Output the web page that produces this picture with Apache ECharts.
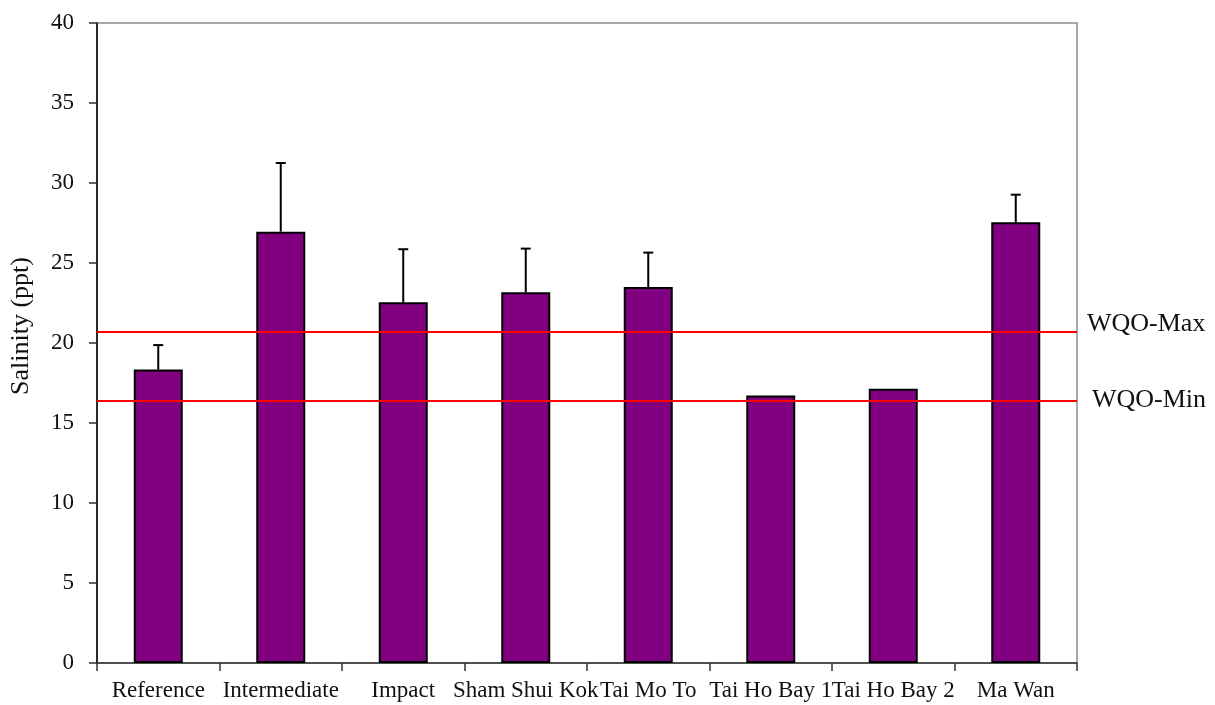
<!DOCTYPE html>
<html>
<head>
<meta charset="utf-8">
<script src="https://cdn.jsdelivr.net/npm/echarts@6/dist/echarts.min.js"></script>
<style>
html,body{margin:0;padding:0;background:#fff;}
#chart{width:1215px;height:705px;}
</style>
</head>
<body>
<div id="chart"></div>
<script>
var categories = ['Reference','Intermediate','Impact','Sham Shui Kok','Tai Mo To','Tai Ho Bay 1','Tai Ho Bay 2','Ma Wan'];
var salinity = [18.34, 26.96, 22.54, 23.17, 23.5, 16.72, 17.14, 27.54];
var errorUp = [1.53, 4.29, 3.32, 2.73, 2.15, 0, 0, 1.73];
var wqoMax = 20.7;
var wqoMin = 16.42;
var yTicks = [0, 5, 10, 15, 20, 25, 30, 35, 40];

var FONT = 'Liberation Serif';
var chart = echarts.init(document.getElementById('chart'));

var errData = categories.map(function (c, i) { return [i, salinity[i], salinity[i] + errorUp[i]]; });

chart.setOption({
  animation: false,
  backgroundColor: '#fff',
  grid: { left: 96, right: 138, top: 23, bottom: 42, show: true, borderColor: '#8c8c8c', borderWidth: 1.5 },
  xAxis: {
    type: 'category',
    data: categories,
    boundaryGap: true,
    axisLine: { lineStyle: { color: '#333', width: 1.5 } },
    axisTick: { show: true, length: 8, lineStyle: { color: '#333', width: 1.5 } },
    axisLabel: { color: '#111', fontFamily: FONT, fontSize: 23, margin: 16, interval: 0 },
    splitLine: { show: false }
  },
  yAxis: {
    type: 'value',
    min: yTicks[0],
    max: yTicks[yTicks.length - 1],
    interval: 5,
    name: 'Salinity (ppt)',
    nameLocation: 'middle',
    nameGap: 63,
    nameRotate: 90,
    nameTextStyle: { color: '#111', fontFamily: FONT, fontSize: 26, padding: [0, 0, 0, 34] },
    axisLine: { show: true, lineStyle: { color: '#000', width: 1.5 } },
    axisTick: { show: true, length: 8, lineStyle: { color: '#333', width: 1.5 } },
    axisLabel: { color: '#111', fontFamily: FONT, fontSize: 23, margin: 23 },
    splitLine: { show: false }
  },
  series: [
    {
      type: 'bar',
      data: salinity,
      barWidth: 49,
      itemStyle: { color: '#800080', borderColor: '#000', borderWidth: 2 },
      z: 2,
      markLine: {
        silent: true,
        symbol: ['none', 'none'],
        lineStyle: { color: '#ff0000', width: 2, type: 'solid' },
        data: [
          { yAxis: wqoMax, name: 'WQO-Max', label: { show: true, position: 'end', formatter: '{b}', distance: 10, offset: [0, -8], color: '#111', fontFamily: FONT, fontSize: 26 } },
          { yAxis: wqoMin, name: 'WQO-Min', label: { show: true, position: 'end', formatter: '{b}', distance: 15, color: '#111', fontFamily: FONT, fontSize: 26 } }
        ],
        z: 5
      }
    },
    {
      type: 'custom',
      data: errData,
      z: 3,
      renderItem: function (params, api) {
        var i = api.value(0);
        if (api.value(2) <= api.value(1)) return null;
        var base = api.coord([i, api.value(1)]);
        var top = api.coord([i, api.value(2)]);
        var hw = 5;
        return {
          type: 'group',
          children: [
            { type: 'line', shape: { x1: base[0], y1: base[1], x2: top[0], y2: top[1] }, style: { stroke: '#000', lineWidth: 2 } },
            { type: 'line', shape: { x1: top[0] - hw, y1: top[1], x2: top[0] + hw, y2: top[1] }, style: { stroke: '#000', lineWidth: 2 } }
          ]
        };
      }
    }
  ]
});
</script>
</body>
</html>
